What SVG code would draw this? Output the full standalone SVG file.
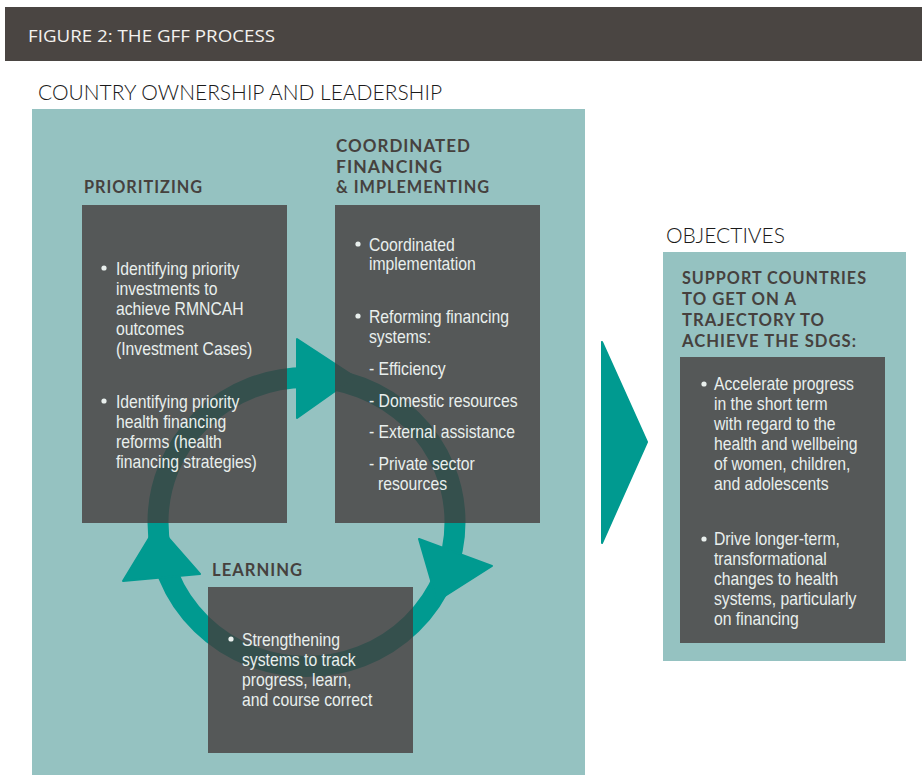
<svg xmlns="http://www.w3.org/2000/svg" width="922" height="775" viewBox="0 0 922 775">
<style>
.hdr{font-family:"Open Sans","Liberation Sans",sans-serif;font-size:16px;fill:#f4f2ef}
.ttl{font-family:"Lato","Liberation Sans",sans-serif;font-weight:300;font-size:21px;fill:#1a1a1a}
.hd{font-family:"Lato","Liberation Sans",sans-serif;font-weight:bold;font-size:16.5px;fill:#46413e;letter-spacing:1px}
.bd{font-family:"Liberation Sans","Arial",sans-serif;font-size:17.5px;fill:#e9efed}
.box{fill:#433c3c;fill-opacity:0.79}
.teal{fill:#009a90}
.bul{fill:#e9efed}
</style>
<rect x="0" y="0" width="922" height="775" fill="#ffffff"/>
<g id="header">
<rect x="5" y="7" width="917" height="54" fill="#4a4542"/>
<text class="hdr" x="28" y="42" textLength="247" lengthAdjust="spacingAndGlyphs">FIGURE 2: THE GFF PROCESS</text>
</g>
<text class="ttl" x="38" y="100" textLength="404" lengthAdjust="spacingAndGlyphs">COUNTRY OWNERSHIP AND LEADERSHIP</text>
<rect id="country-bg" x="32" y="109" width="553" height="666" fill="#95c2c1"/>
<g id="connectors">
<ellipse cx="306.5" cy="522" rx="148.5" ry="144.5" fill="none" stroke="#009a90" stroke-width="21"/>
<polygon class="teal" points="297,339 297,418 355,377" stroke="#009a90" stroke-width="2" stroke-linejoin="round"/>
<polygon class="teal" points="123,581 200,574 157,525" stroke="#009a90" stroke-width="2" stroke-linejoin="round"/>
<polygon class="teal" points="419,539 492,566 437,601" stroke="#009a90" stroke-width="2" stroke-linejoin="round"/>
<polygon class="teal" points="602,342 602,543 647,442" stroke="#009a90" stroke-width="2" stroke-linejoin="round"/>
</g>
<g id="prioritizing">
<text class="hd" x="84" y="193" textLength="119" lengthAdjust="spacingAndGlyphs">PRIORITIZING</text>
<rect class="box" x="82" y="205" width="205" height="318"/>
<circle class="bul" cx="104" cy="268" r="2.6"/>
<circle class="bul" cx="104" cy="401" r="2.6"/>
<g transform="translate(116,0) scale(0.9,1)">
<text class="bd" x="0" y="275">Identifying priority</text>
<text class="bd" x="0" y="295">investments to</text>
<text class="bd" x="0" y="315">achieve RMNCAH</text>
<text class="bd" x="0" y="335">outcomes</text>
<text class="bd" x="0" y="355">(Investment Cases)</text>
<text class="bd" x="0" y="408">Identifying priority</text>
<text class="bd" x="0" y="428">health financing</text>
<text class="bd" x="0" y="448">reforms (health</text>
<text class="bd" x="0" y="468">financing strategies)</text>
</g>
</g>
<g id="coordinated">
<text class="hd" x="336" y="152" textLength="135" lengthAdjust="spacingAndGlyphs">COORDINATED</text>
<text class="hd" x="336" y="172.5" textLength="107" lengthAdjust="spacingAndGlyphs">FINANCING</text>
<text class="hd" x="336" y="193" textLength="154" lengthAdjust="spacingAndGlyphs">&amp; IMPLEMENTING</text>
<rect class="box" x="335" y="205" width="205" height="318"/>
<circle class="bul" cx="358" cy="244" r="2.6"/>
<circle class="bul" cx="358" cy="316" r="2.6"/>
<g transform="translate(369,0) scale(0.9,1)">
<text class="bd" x="0" y="251">Coordinated</text>
<text class="bd" x="0" y="270">implementation</text>
<text class="bd" x="0" y="323">Reforming financing</text>
<text class="bd" x="0" y="343">systems:</text>
<text class="bd" x="0" y="375">- Efficiency</text>
<text class="bd" x="0" y="407">- Domestic resources</text>
<text class="bd" x="0" y="438">- External assistance</text>
<text class="bd" x="0" y="470">- Private sector</text>
<text class="bd" x="10" y="490">resources</text>
</g>
</g>
<g id="learning">
<text class="hd" x="212" y="576" textLength="91" lengthAdjust="spacingAndGlyphs">LEARNING</text>
<rect class="box" x="208" y="587" width="205" height="166"/>
<circle class="bul" cx="231" cy="639" r="2.6"/>
<g transform="translate(242,0) scale(0.9,1)">
<text class="bd" x="0" y="646">Strengthening</text>
<text class="bd" x="0" y="666">systems to track</text>
<text class="bd" x="0" y="686">progress, learn,</text>
<text class="bd" x="0" y="706">and course correct</text>
</g>
</g>
<g id="objectives">
<text class="ttl" x="666" y="243" textLength="119" lengthAdjust="spacingAndGlyphs">OBJECTIVES</text>
<rect x="663" y="252" width="243" height="409" fill="#95c2c1"/>
<text class="hd" x="682" y="284" textLength="185" lengthAdjust="spacingAndGlyphs">SUPPORT COUNTRIES</text>
<text class="hd" x="682" y="305" textLength="115" lengthAdjust="spacingAndGlyphs">TO GET ON A</text>
<text class="hd" x="682" y="326" textLength="143" lengthAdjust="spacingAndGlyphs">TRAJECTORY TO</text>
<text class="hd" x="682" y="347" textLength="175" lengthAdjust="spacingAndGlyphs">ACHIEVE THE SDGS:</text>
<rect class="box" x="680" y="357" width="205" height="286"/>
<circle class="bul" cx="704" cy="384" r="2.6"/>
<circle class="bul" cx="704" cy="539" r="2.6"/>
<g transform="translate(714,0) scale(0.9,1)">
<text class="bd" x="0" y="390">Accelerate progress</text>
<text class="bd" x="0" y="410">in the short term</text>
<text class="bd" x="0" y="430">with regard to the</text>
<text class="bd" x="0" y="450">health and wellbeing</text>
<text class="bd" x="0" y="470">of women, children,</text>
<text class="bd" x="0" y="490">and adolescents</text>
<text class="bd" x="0" y="545">Drive longer-term,</text>
<text class="bd" x="0" y="565">transformational</text>
<text class="bd" x="0" y="585">changes to health</text>
<text class="bd" x="0" y="605">systems, particularly</text>
<text class="bd" x="0" y="625">on financing</text>
</g>
</g>
</svg>
